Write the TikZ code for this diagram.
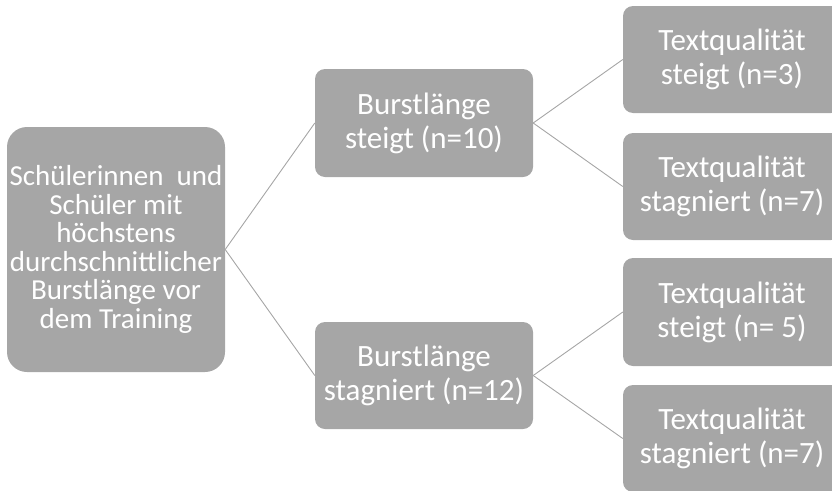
\documentclass[tikz,border=0pt]{standalone}
\usepackage{fontspec}
\setmainfont{Carlito}
\definecolor{boxgray}{RGB}{166,166,166}
\definecolor{linegray}{RGB}{166,166,166}
\begin{document}
\begin{tikzpicture}[x=1pt,y=-1pt,
  box/.style={fill=boxgray, draw=none, text=white, align=center,
    inner sep=0pt, minimum width=218pt, rounded corners=10pt,
    font=\fontsize{31pt}{34pt}\selectfont},
  rootbox/.style={box, rounded corners=20pt, font=\fontsize{29pt}{28.5pt}\selectfont},
  link/.style={draw=linegray, line width=0.9pt}]
  \useasboundingbox (0,0) rectangle (832,490);
  \clip (0,0) rectangle (832,490);

  % root
  \node[rootbox, minimum height=245pt] (root) at (116,249.5)
    {Schülerinnen~ und\\Schüler mit\\höchstens\\durchschnittlicher\\Burstlänge vor\\dem Training};

  % second level
  \node[box, minimum height=108pt] (up) at (424,123) {Burstlänge\\steigt (n=10)};
  \node[box, minimum height=107pt] (stag) at (424,375.5) {Burstlänge\\stagniert (n=12)};

  % third level
  \node[box, minimum height=107pt] (upup) at (732,59.5) {Textqualität\\steigt (n=3)};
  \node[box, minimum height=107pt] (upstag) at (732,186.5) {Textqualität\\stagniert (n=7)};
  \node[box, minimum height=108pt] (stagup) at (732,312) {Textqualität\\steigt (n= 5)};
  \node[box, minimum height=107pt] (stagstag) at (732,438.5) {Textqualität\\stagniert (n=7)};

  % connectors
  \draw[link] (root.east) -- (up.west);
  \draw[link] (root.east) -- (stag.west);
  \draw[link] (up.east) -- (upup.west);
  \draw[link] (up.east) -- (upstag.west);
  \draw[link] (stag.east) -- (stagup.west);
  \draw[link] (stag.east) -- (stagstag.west);
\end{tikzpicture}
\end{document}
